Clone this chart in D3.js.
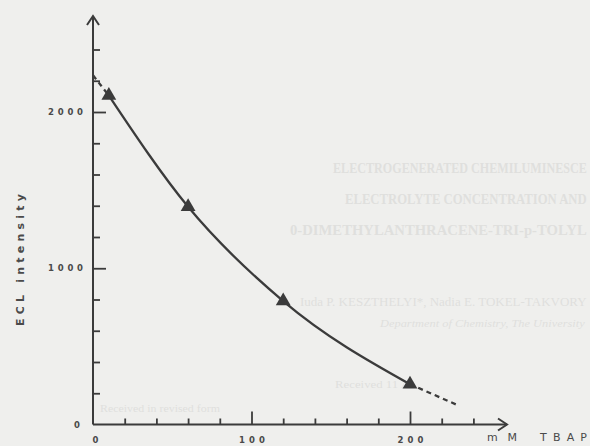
<!DOCTYPE html>
<html><head><meta charset="utf-8">
<script src="https://cdn.jsdelivr.net/npm/d3@7"></script>
<style>
html,body{margin:0;padding:0;background:#efefed;}
svg{display:block;}
</style></head>
<body>
<svg id="c" width="590" height="446"></svg>
<script>
// ---- data ----
const concentration = [10, 60, 120, 200];          // mM TBAP
const eclIntensity  = [2105, 1393, 790, 258];       // ECL intensity
const extrapLow  = [[0, 2235], [10, 2105]];          // dashed extrapolation to 0
const extrapHigh = [[200, 258], [230, 124]];         // dashed extrapolation beyond 200
const yMajorTicks = [0, 1000, 2000];
const yMinorTicks = [200, 400, 600, 800, 1200, 1400, 1600, 1800, 2200, 2400];
const xMajorTicks = [0, 100, 200];
const xMinorTicks = [20, 40, 60, 80, 120, 140, 160, 180, 220, 240];
const yLabel = "ECL intensity";
const xUnit = "mM", xName = "TBAP";
const bleedLines = [
  "ELECTROGENERATED CHEMILUMINESCE",
  "ELECTROLYTE CONCENTRATION AND",
  "0-DIMETHYLANTHRACENE-TRI-p-TOLYL",
  "Iuda P. KESZTHELYI*, Nadia E. TOKEL-TAKVORY",
  "Department of Chemistry, The University",
  "Received 11 A",
  "Received in revised form"
];

const svg = d3.select("#c");
const ink = "#3b3b3b", labInk = "#4a4a4a";
const sans = "DejaVu Sans, Liberation Sans, sans-serif";

const x = d3.scaleLinear().domain([0, 200]).range([93, 410]);
const y = d3.scaleLinear().domain([0, 2000]).range([424.5, 112]);

// place a text so that its drawn width equals len (horizontal scale)
function fitText(g, str, px, py, len, attrs) {
  const t = g.append("text").text(str);
  Object.entries(attrs).forEach(([k, v]) => t.attr(k, v));
  const nat = t.node().getComputedTextLength();
  t.attr("transform", `translate(${px},${py}) scale(${len / nat},1)`);
  return t;
}

// faint bleed-through text from the scanned page
const bl = svg.append("g").attr("fill", "#dfdfdd").attr("font-family", "Liberation Serif, DejaVu Serif, serif");
const bleedPos = [
  {x: 333, y: 173, s: 15, len: 254, b: true},
  {x: 345, y: 204, s: 15, len: 242, b: true},
  {x: 290, y: 235, s: 15, len: 297, b: true},
  {x: 300, y: 306, s: 12, len: 287},
  {x: 380, y: 327, s: 10, len: 205, it: true},
  {x: 335, y: 388, s: 10, len: 75},
  {x: 100, y: 412, s: 10, len: 120}
];
bleedLines.forEach((t, i) => {
  const p = bleedPos[i];
  fitText(bl, t, p.x, p.y, p.len, {
    "font-size": p.s, "font-weight": p.b ? "bold" : "normal",
    "font-style": p.it ? "italic" : "normal"
  });
});

// axes lines with open arrow heads
const ax = svg.append("g").attr("stroke", ink).attr("stroke-width", 2).attr("fill", "none");
ax.append("line").attr("x1", x(0)).attr("y1", y(0)).attr("x2", x(0)).attr("y2", 16);
ax.append("path").attr("d", `M${x(0)-6},${25} L${x(0)},${16} L${x(0)+6},${25}`);
ax.append("line").attr("x1", x(0)).attr("y1", y(0)).attr("x2", 507).attr("y2", y(0));
ax.append("path").attr("d", `M${498},${y(0)-6} L${507},${y(0)} L${498},${y(0)+6}`);

// y ticks
const gyMinor = svg.append("g").attr("transform", `translate(${x(0)},0)`)
  .call(d3.axisRight(y).tickValues(yMinorTicks).tickSize(7).tickSizeOuter(0).tickFormat(""));
const gyMajor = svg.append("g").attr("transform", `translate(${x(0)},0)`)
  .call(d3.axisRight(y).tickValues([1000, 2000]).tickSize(13).tickSizeOuter(0).tickFormat(""));
const gyLab = svg.append("g").attr("transform", `translate(${x(0)},0)`)
  .call(d3.axisLeft(y).tickValues(yMajorTicks).tickSize(0).tickPadding(10).tickFormat(d3.format("d")));
// x ticks
const gxMinor = svg.append("g").attr("transform", `translate(0,${y(0)})`)
  .call(d3.axisTop(x).tickValues(xMinorTicks).tickSize(6).tickSizeOuter(0).tickFormat(""));
const gxMajor = svg.append("g").attr("transform", `translate(0,${y(0)})`)
  .call(d3.axisTop(x).tickValues([100, 200]).tickSize(13).tickSizeOuter(0).tickFormat(""));
const gxLab = svg.append("g").attr("transform", `translate(0,${y(0)})`)
  .call(d3.axisBottom(x).tickValues(xMajorTicks).tickSize(0).tickPadding(12).tickFormat(d3.format("d")));

[gyMinor, gyMajor, gyLab, gxMinor, gxMajor, gxLab].forEach(g => {
  g.select(".domain").remove();
  g.selectAll(".tick line").attr("stroke", ink).attr("stroke-width", 1.8);
  g.selectAll(".tick text").attr("fill", labInk).attr("font-family", sans)
    .attr("font-weight", "bold").attr("font-size", 8.5);
});
gyLab.selectAll(".tick text").each(function(d) {
  const t = d3.select(this);
  if (d > 0) t.attr("textLength", 35).attr("lengthAdjust", "spacing");
  t.attr("x", d > 0 ? -10 : -13);
});
gxLab.selectAll(".tick text").each(function(d) {
  const t = d3.select(this);
  if (d > 0) t.attr("textLength", 26).attr("lengthAdjust", "spacing");
  else t.attr("x", 2);
});

// axis titles
svg.append("text").attr("transform", "translate(24,260) rotate(-90)")
  .attr("text-anchor", "middle").attr("fill", labInk)
  .attr("font-family", sans).attr("font-size", 11).attr("font-weight", "bold")
  .attr("textLength", 132).attr("lengthAdjust", "spacing").text(yLabel);
svg.append("text").attr("x", 487).attr("y", 441).attr("fill", labInk)
  .attr("font-family", sans).attr("font-size", 11)
  .attr("textLength", 30).attr("lengthAdjust", "spacing").text(xUnit);
svg.append("text").attr("x", 540).attr("y", 441).attr("fill", labInk)
  .attr("font-family", sans).attr("font-size", 11)
  .attr("textLength", 47).attr("lengthAdjust", "spacing").text(xName);

// curve
const pts = concentration.map((c, i) => [c, eclIntensity[i]]);
const line = d3.line().x(d => x(d[0])).y(d => y(d[1])).curve(d3.curveMonotoneX);
svg.append("path").datum(pts).attr("d", line).attr("fill", "none")
  .attr("stroke", ink).attr("stroke-width", 2.3);
const dline = d3.line().x(d => x(d[0])).y(d => y(d[1]));
[extrapLow, extrapHigh].forEach(seg => {
  svg.append("path").datum(seg).attr("d", dline).attr("fill", "none")
    .attr("stroke", ink).attr("stroke-width", 2.3).attr("stroke-dasharray", "5,4");
});

// triangle markers
svg.append("g").selectAll("path").data(pts).join("path")
  .attr("transform", d => `translate(${x(d[0])},${y(d[1])})`)
  .attr("d", d3.symbol(d3.symbolTriangle, 95)).attr("fill", ink);
</script>
</body></html>
